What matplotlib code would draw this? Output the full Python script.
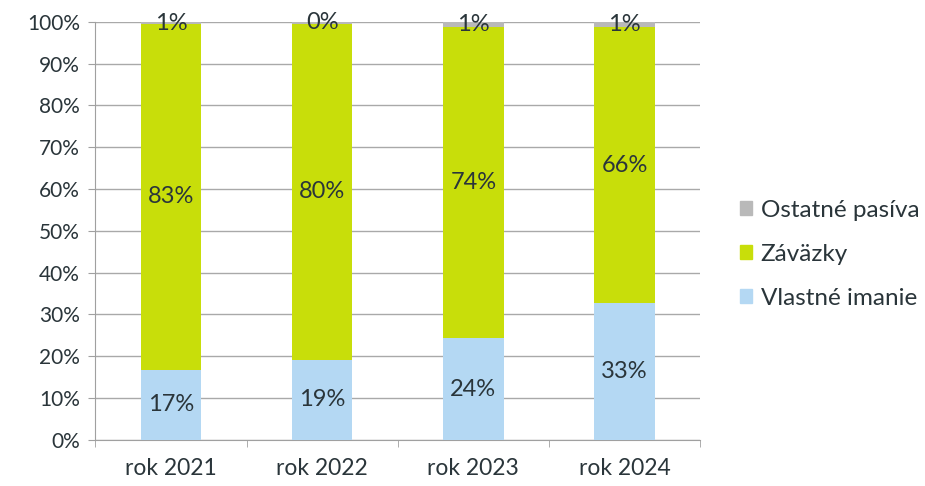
import numpy as np
import matplotlib
matplotlib.use('Agg')
import matplotlib.pyplot as plt
import matplotlib.patches as mpatches
from matplotlib.ticker import FixedLocator, PercentFormatter

plt.rcParams['font.family'] = ['Lato', 'DejaVu Sans']

years = ['rok 2021', 'rok 2022', 'rok 2023', 'rok 2024']
vlastne_imanie = [16.8, 19.2, 24.3, 32.8]
zavazky = [82.6, 80.4, 74.4, 65.9]
ostatne_pasiva = [0.6, 0.4, 1.3, 1.3]

c_blue = '#b4d8f3'
c_green = '#c8de0a'
c_grey = '#b9b9b9'
txt = '#2a353a'
size = 15

fig = plt.figure(figsize=(9.25, 4.86), dpi=100)
ax = fig.add_axes([0.103, 0.095, 0.654, 0.860])

x = np.arange(len(years))
w = 0.4
b1 = ax.bar(x, vlastne_imanie, width=w, color=c_blue, zorder=3)
b2 = ax.bar(x, zavazky, width=w, bottom=vlastne_imanie, color=c_green, zorder=3)
bottom3 = np.array(vlastne_imanie) + np.array(zavazky)
b3 = ax.bar(x, ostatne_pasiva, width=w, bottom=bottom3, color=c_grey, zorder=3)

for bars in (b1, b2, b3):
    ax.bar_label(bars, labels=[f'{b.get_height():.0f}%' for b in bars],
                 label_type='center', fontsize=17, color=txt, zorder=4)

ax.set_xlim(-0.5, len(years) - 0.5)
ax.set_ylim(0, 100)
ax.set_yticks(np.arange(0, 101, 10))
ax.yaxis.set_major_formatter(PercentFormatter(decimals=0))
ax.set_xticks(x)
ax.set_xticklabels(years)
ax.xaxis.set_minor_locator(FixedLocator(np.arange(-0.5, len(years), 1)))
ax.tick_params(axis='x', which='major', length=0, pad=13, labelsize=16.5, colors=txt)
ax.tick_params(axis='x', which='minor', length=5, color='#a0a0a0')
ax.tick_params(axis='y', length=5, color='#a0a0a0', labelsize=size, labelcolor=txt, pad=6)

ax.yaxis.grid(True, color='#a9a9a9', linewidth=1)
ax.set_axisbelow(True)
for s in ['top', 'right']:
    ax.spines[s].set_visible(False)
ax.spines['left'].set_color('#a0a0a0')
ax.spines['bottom'].set_color('#a0a0a0')

handles = [mpatches.Patch(color=c_grey, label='Ostatné pasíva'),
           mpatches.Patch(color=c_green, label='Záväzky'),
           mpatches.Patch(color=c_blue, label='Vlastné imanie')]
leg = fig.legend(handles=handles, loc='center left', bbox_to_anchor=(0.787, 0.477),
                 frameon=False, fontsize=17.5, handlelength=0.5, handleheight=0.5,
                 handletextpad=0.35, labelspacing=0.95, borderpad=0)
for t in leg.get_texts():
    t.set_color(txt)

plt.savefig('out.png', dpi=100)
